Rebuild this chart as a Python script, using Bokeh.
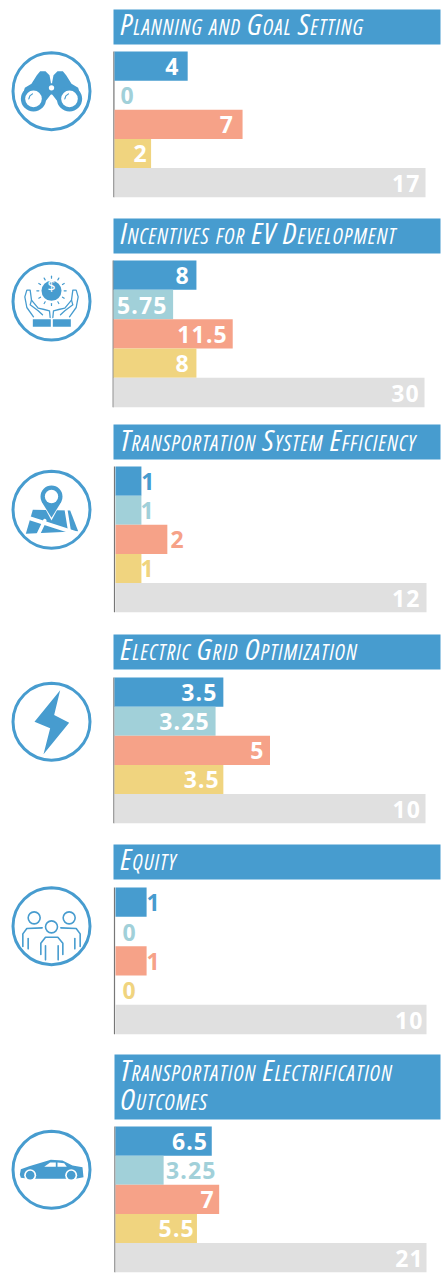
from math import cos, sin, pi
from bokeh.plotting import figure
from bokeh.models import Range1d, ColumnDataSource
from bokeh.core.properties import value
from bokeh.embed import file_html
from bokeh.resources import INLINE

# ---- data ----
series_names = ["Series A", "Series B", "Series C", "Series D", "Total"]
titles = [
    ["Planning and Goal Setting"],
    ["Incentives for EV Development"],
    ["Transportation System Efficiency"],
    ["Electric Grid Optimization"],
    ["Equity"],
    ["Transportation Electrification", "Outcomes"],
]
planning = [4, 0, 7, 2, 17]
incentives = [8, 5.75, 11.5, 8, 30]
system_eff = [1, 1, 2, 1, 12]
grid_opt = [3.5, 3.25, 5, 3.5, 10]
equity = [1, 0, 1, 0, 10]
outcomes = [6.5, 3.25, 7, 5.5, 21]
all_values = [planning, incentives, system_eff, grid_opt, equity, outcomes]

# ---- style & layout (page pixels) ----
COLORS = ["#479CCF", "#A1D0D9", "#F6A288", "#F0D47F", "#E0E0E0"]
BLUE = COLORS[0]
W, H = 442, 1278
TITLE_SIZE = 30
TITLE_SHIFT = 12
LABEL_SHIFT = 0.5
SPACING_FIX = 0.8
LAYOUT = [
    dict(hx=113, ht=9, hb=44, base=[35], ax=113.4, x0=114, xe=425, t=51, b=196.7, cy=90.7,
         lab=[178.7, 134, 233.3, 147, 419.3]),
    dict(hx=113, ht=218, hb=253, base=[244], ax=112.7, x0=113, xe=424, t=260, b=406.7, cy=301,
         lab=[189, 165.7, 226, 189, 418.7]),
    dict(hx=113, ht=424, hb=459, base=[451], ax=114, x0=115, xe=426, t=466, b=611.7, cy=509.3,
         lab=[154.7, 154, 184, 154, 419.3]),
    dict(hx=113, ht=634, hb=669, base=[660], ax=113.4, x0=114, xe=425, t=677, b=822.7, cy=721.2,
         lab=[216, 208, 263.7, 218.3, 420]),
    dict(hx=113, ht=844, hb=879, base=[870], ax=114, x0=115, xe=426, t=887, b=1033.7, cy=925.7,
         lab=[160, 136, 160, 136, 422.3]),
    dict(hx=114, ht=1054, hb=1119, base=[1081, 1110], ax=114.4, x0=115, xe=426, t=1126, b=1271.7, cy=1169.3,
         lab=[206.7, 214.7, 214, 193.3, 422.7]),
]
CX = 51

p = figure(width=W, height=H, x_range=Range1d(0, W), y_range=Range1d(H, 0),
           x_axis_type=None, y_axis_type=None, toolbar_location=None,
           output_backend="svg", min_border=0, outline_line_color=None,
           background_fill_color="white", border_fill_color="white",
           styles={"font-variant": "small-caps", "font-stretch": "75%", "letter-spacing": "1.1px"})
p.grid.visible = False

for i, (vals, lay, title) in enumerate(zip(all_values, LAYOUT, titles)):
    # panel's own value scale: 0 sits at x0, the total at xe
    per_px = vals[-1] / (lay["xe"] - lay["x0"])
    start = -lay["x0"] * per_px
    name = f"panel{i}"
    p.extra_x_ranges[name] = Range1d(start, start + W * per_px)

    # header
    p.quad(left=lay["hx"], right=440, top=lay["ht"], bottom=lay["hb"],
           fill_color=BLUE, line_color=None)
    for line_text, base in zip(title, lay["base"]):
        p.text(x=[120], y=[base - TITLE_SHIFT], text=[line_text], text_color="white",
               text_font=value("Open Sans"), text_font_style="italic",
               text_font_size=f"{TITLE_SIZE}px", text_align="left", text_baseline="alphabetic")

    # axis line
    p.segment(x0=lay["ax"], x1=lay["ax"], y0=lay["t"], y1=lay["b"],
              line_color="#777777", line_width=1.2)

    # bars
    rh = (lay["b"] - lay["t"]) / 5
    ys = [lay["t"] + rh * (k + 0.5) for k in range(5)]
    labels = [f"{v:g}" for v in vals]
    src = ColumnDataSource(dict(
        y=ys, v=vals, c=COLORS,
        labels=labels,
        dx=[lay["lab"][k] - (lay["x0"] + vals[k] / per_px) - SPACING_FIX * len(labels[k]) for k in range(5)],
        lc=["white" if lay["lab"][k] <= lay["x0"] + vals[k] / per_px + 0.5 else COLORS[k] for k in range(5)],
    ))
    p.hbar(y="y", left=0, right="v", height=rh, fill_color="c", line_color=None,
           source=src, x_range_name=name)
    p.text(x="v", y="y", text="labels", x_offset="dx", y_offset=LABEL_SHIFT, text_color="lc",
           text_font=value("Noto Sans"), text_font_style="bold", text_font_size="23px",
           text_align="right", text_baseline="alphabetic", source=src, x_range_name=name)


# ---- icons: shapes drawn in zoomed-icon units (1/3 px), centre (152, cy) ----
def pts(points, cy):
    xs = [CX + (a - 152) / 3 for a, b in points]
    ys = [cy + (b - 272) / 3 for a, b in points]
    return xs, ys


def poly(points, cy, color=BLUE):
    xs, ys = pts(points, cy)
    p.patch(xs, ys, fill_color=color, line_color=None)


def line(points, cy, w=1.6, color=BLUE):
    xs, ys = pts(points, cy)
    p.line(xs, ys, line_color=color, line_width=w, line_cap="round", line_join="round")


def disk(a, b, r, cy, color=BLUE):
    xs, ys = pts([(a, b)], cy)
    p.circle(x=xs, y=ys, radius=r / 3, fill_color=color, line_color=None)


def ring(a, b, r, cy, w=1.6):
    xs, ys = pts([(a, b)], cy)
    p.circle(x=xs, y=ys, radius=r / 3, fill_color="white", line_color=BLUE, line_width=w)


def mirror(points):
    return [(304 - a, b) for a, b in points]


# 1 binoculars
cy = LAYOUT[0]["cy"]
barrel = [(108, 224), (118, 212), (134, 212), (146, 224), (150, 245), (150, 282), (136, 300), (62, 295), (72, 262), (92, 250)]
poly(barrel, cy)
poly(mirror(barrel), cy)
poly([(145, 248), (159, 248), (159, 282), (145, 282)], cy)
disk(152, 262, 8, cy, "white")
for a in (98, 206):
    disk(a, 295, 38, cy)
    disk(a, 295, 25, cy, "white")
    line([(a - 14, 295), (a - 11, 286), (a - 3, 280)], cy, 1.2)

# 2 hands and coin
cy = LAYOUT[1]["cy"]
disk(152, 240, 30, cy)
p.text(x=[CX], y=[cy + (240 - 272) / 3 - 5], text=["$"], text_color="white",
       text_font=value("Noto Sans"), text_font_size="14px", text_align="center", text_baseline="alphabetic")
for k in range(12):
    ang = 2 * pi * k / 12
    line([(152 + 38 * cos(ang), 240 + 38 * sin(ang)), (152 + 44 * cos(ang), 240 + 44 * sin(ang))], cy, 1.2)
hand = [(98, 318), (78, 290), (72, 258), (78, 238), (88, 238), (92, 268), (112, 292), (130, 296), (146, 300), (148, 320)]
hand2 = [(92, 268), (88, 282), (112, 300), (125, 312)]
for h in (hand, hand2):
    line(h, cy, 1.3)
    line(mirror(h), cy, 1.3)
for a0, a1 in ((96, 150), (156, 210)):
    poly([(a0, 325), (a1, 325), (a1, 348), (a0, 348)], cy)

# 3 map and pin
cy = LAYOUT[2]["cy"] + 4 / 3
poly([(96, 268), (208, 270), (232, 332), (75, 340)], cy)
line([(88, 294), (232, 340)], cy, 4, "white")
line([(132, 300), (112, 342)], cy, 3.5, "white")
line([(196, 270), (206, 332)], cy, 3, "white")
poly([(112, 225), (152, 300), (192, 225)], cy, "white")
disk(152, 225, 40, cy, "white")
disk(152, 228, 33, cy)
poly([(122, 243), (152, 292), (182, 243)], cy)
disk(152, 228, 20, cy, "white")

# 4 lightning
cy = LAYOUT[3]["cy"]
poly([(178, 178), (160, 252), (205, 275), (128, 370), (148, 292), (101, 272)], cy)

# 5 people
cy = LAYOUT[4]["cy"] + 5
ring(100, 232, 18, cy)
ring(205, 232, 18, cy)
side = [(66, 318), (66, 280), (78, 264), (124, 262)]
line(side, cy)
line(mirror(side), cy)
line([(82, 294), (82, 325)], cy)
line([(222, 294), (222, 325)], cy)
ring(152, 259, 18, cy)
line([(120, 342), (120, 308), (134, 290), (171, 290), (186, 308), (186, 342)], cy)
line([(134, 316), (134, 358)], cy)
line([(172, 316), (172, 358)], cy)

# 6 car
cy = LAYOUT[5]["cy"] - 86 / 3
poly([(57, 372), (60, 356), (85, 347), (125, 335), (150, 328), (185, 330), (215, 345), (245, 350), (248, 380), (225, 385), (85, 385), (60, 382)], cy)
poly([(130, 349), (148, 336), (165, 336), (165, 349)], cy, "white")
poly([(170, 336), (190, 338), (198, 349), (170, 349)], cy, "white")
for a in (88, 211):
    disk(a, 374, 18, cy, "white")
    disk(a, 374, 13, cy)

# icon rings last, so nothing crosses them
for lay in LAYOUT:
    p.circle(x=[CX], y=[lay["cy"]], radius=38.5, fill_color=None, line_color=BLUE, line_width=3)

open("out.html", "w").write(file_html(p, INLINE))
